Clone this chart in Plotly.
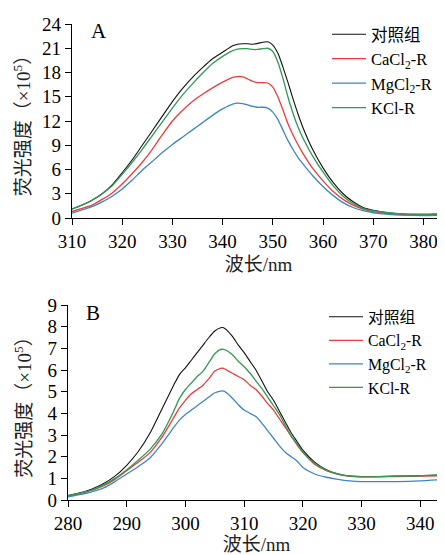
import plotly.graph_objects as go

# ---------------- Panel A data ----------------
wl_A = [310, 312, 314, 316, 318, 320, 322, 324, 326, 328, 330, 332, 334, 336, 338, 340,
        342, 343, 344, 345, 346, 347, 348, 349, 350, 351, 352, 353, 354, 355, 356, 358,
        360, 362, 364, 366, 368, 370, 373, 376, 380, 384.3]
ctrl_A = [1.1, 1.6, 2.2, 3.0, 4.1, 5.6, 7.2, 9.0, 10.8, 12.6, 14.4, 16.0, 17.4, 18.6, 19.7, 20.5,
          21.3, 21.5, 21.55, 21.55, 21.5, 21.6, 21.75, 21.8, 21.4, 20.4, 18.7, 16.8, 14.8, 12.9, 11.2, 8.4,
          6.2, 4.4, 3.0, 2.0, 1.3, 0.95, 0.65, 0.5, 0.45, 0.5]
ca_A = [0.8, 1.2, 1.6, 2.3, 3.1, 4.2, 5.5, 6.9, 8.5, 10.3, 12.0, 13.3, 14.4, 15.3, 16.1, 16.8,
        17.4, 17.5, 17.45, 17.2, 16.9, 16.75, 16.75, 16.7, 16.2, 15.0, 13.4, 11.7, 10.3, 9.1, 8.0, 6.1,
        4.6, 3.3, 2.3, 1.6, 1.1, 0.8, 0.55, 0.4, 0.35, 0.35]
mg_A = [0.6, 1.0, 1.4, 2.0, 2.7, 3.6, 4.7, 5.9, 7.0, 8.1, 9.1, 10.0, 10.9, 11.8, 12.7, 13.5,
        14.1, 14.2, 14.15, 14.0, 13.8, 13.7, 13.7, 13.6, 13.1, 12.2, 10.9, 9.6, 8.5, 7.5, 6.7, 5.2,
        3.9, 2.8, 1.9, 1.3, 0.9, 0.65, 0.45, 0.35, 0.3, 0.35]
k_A = [1.1, 1.6, 2.2, 3.0, 4.0, 5.4, 6.9, 8.5, 10.2, 11.9, 13.6, 15.2, 16.6, 17.9, 19.1, 20.0,
       20.7, 20.9, 20.95, 20.95, 20.85, 20.85, 20.95, 21.0, 20.6, 19.3, 17.3, 15.0, 13.0, 11.3, 9.9, 7.6,
       5.7, 4.0, 2.7, 1.8, 1.2, 0.9, 0.65, 0.5, 0.45, 0.5]

# ---------------- Panel B data ----------------
wl_B = [280, 282, 284, 286, 288, 290, 292, 294, 296, 298, 299, 300, 301, 302, 303, 304, 305,
        306, 306.5, 307, 308, 309, 310, 311, 312, 313, 314, 315, 316, 317, 318, 319, 320, 322,
        324, 326, 328, 330, 333, 336, 340, 344.2]
ctrl_B = [0.2, 0.33, 0.5, 0.75, 1.1, 1.6, 2.25, 3.1, 4.2, 5.3, 5.8, 6.1, 6.45, 6.8, 7.15, 7.5, 7.8,
          7.95, 7.95, 7.85, 7.55, 7.15, 6.8, 6.4, 6.0, 5.5, 5.0, 4.6, 4.1, 3.6, 3.1, 2.7, 2.3, 1.75,
          1.4, 1.2, 1.1, 1.08, 1.08, 1.1, 1.12, 1.15]
ca_B = [0.18, 0.3, 0.45, 0.65, 0.95, 1.35, 1.75, 2.2, 2.9, 3.8, 4.25, 4.6, 4.9, 5.1, 5.3, 5.6, 5.95,
        6.08, 6.08, 6.0, 5.85, 5.7, 5.55, 5.3, 5.1, 4.8, 4.45, 4.15, 3.75, 3.35, 2.95, 2.55, 2.2, 1.65,
        1.35, 1.18, 1.1, 1.08, 1.08, 1.08, 1.1, 1.12]
mg_B = [0.15, 0.25, 0.38, 0.55, 0.85, 1.2, 1.55, 1.95, 2.6, 3.35, 3.7, 3.95, 4.15, 4.35, 4.55, 4.75, 4.95,
        5.03, 5.03, 4.95, 4.7, 4.4, 4.15, 4.0, 3.85, 3.55, 3.2, 2.85, 2.5, 2.2, 2.0, 1.8, 1.5, 1.2,
        1.05, 0.95, 0.88, 0.85, 0.85, 0.85, 0.88, 0.95]
k_B = [0.2, 0.3, 0.45, 0.7, 1.0, 1.4, 1.85, 2.35, 3.05, 4.1, 4.7, 5.1, 5.4, 5.7, 5.95, 6.35, 6.75,
       6.95, 6.95, 6.9, 6.7, 6.4, 6.15, 5.85, 5.5, 5.15, 4.75, 4.35, 3.95, 3.45, 2.95, 2.6, 2.2, 1.7,
       1.38, 1.2, 1.1, 1.07, 1.08, 1.1, 1.12, 1.18]

series_names = ["对照组", "CaCl<sub>2</sub>-R", "MgCl<sub>2</sub>-R", "KCl-R"]
colors = ["#111111", "#ee3b3b", "#3d85c6", "#2f9a52"]
widths = [1.1, 1.3, 1.3, 1.3]

FONT = "Liberation Serif, Noto Sans CJK SC, serif"

fig = go.Figure()
for name, ys, c, w in zip(series_names, [ctrl_A, ca_A, mg_A, k_A], colors, widths):
    fig.add_trace(go.Scatter(x=wl_A, y=ys, mode="lines", name=name,
                             line=dict(color=c, width=w, shape="spline", smoothing=0.6),
                             xaxis="x", yaxis="y", legend="legend"))
for name, ys, c, w in zip(series_names, [ctrl_B, ca_B, mg_B, k_B], colors, widths):
    fig.add_trace(go.Scatter(x=wl_B, y=ys, mode="lines", name=name,
                             line=dict(color=c, width=w, shape="spline", smoothing=0.6),
                             xaxis="x2", yaxis="y2", legend="legend2"))

axis_common = dict(showline=True, linecolor="black", linewidth=1.3, ticks="outside", ticklen=6,
                   tickcolor="black", tickwidth=1.3, showgrid=False, zeroline=False, automargin=False,
                   tickfont=dict(family=FONT, size=19, color="black"))

xtitle = dict(text="波长/nm", font=dict(family=FONT, size=19, color="#222"), standoff=6)
ytitle_font = dict(family=FONT, size=19, color="#222")

# The page body has an 8px margin; the figure is sized to fit the 445x555 window.
OFF = 8
W, H = 445 - OFF, 555 - OFF


def px_x(v):
    return (v - OFF) / W


def px_y(v):
    return 1 - (v - OFF) / H


fig.update_layout(
    template="none",
    width=W, height=H, margin=dict(l=0, r=0, t=0, b=0, autoexpand=False),
    paper_bgcolor="white", plot_bgcolor="white",
    xaxis=dict(domain=[px_x(72), 1], range=[310, 384.3], dtick=10, anchor="y", title=xtitle, **axis_common),
    yaxis=dict(domain=[px_y(218), px_y(24)], range=[0, 24], dtick=3, anchor="x",
               title=dict(text="荧光强度（×10<sup>5</sup>）", font=ytitle_font, standoff=6), **axis_common),
    xaxis2=dict(domain=[px_x(68), 1], range=[280, 344.2], dtick=10, anchor="y2", title=xtitle, **axis_common),
    yaxis2=dict(domain=[px_y(500), px_y(305)], range=[0, 9], dtick=1, anchor="x2",
                title=dict(text="荧光强度（×10<sup>5</sup>）", font=ytitle_font, standoff=10), **axis_common),
    legend=dict(x=px_x(327), y=px_y(17), xanchor="left", yanchor="top", bgcolor="rgba(0,0,0,0)",
                font=dict(family=FONT, size=16.5, color="black"), itemwidth=34, tracegroupgap=0),
    legend2=dict(x=px_x(324), y=px_y(300), xanchor="left", yanchor="top", bgcolor="rgba(0,0,0,0)",
                 font=dict(family=FONT, size=15.8, color="black"), itemwidth=34, tracegroupgap=0),
    annotations=[
        dict(text="A", x=px_x(99), y=px_y(31), xref="paper", yref="paper", showarrow=False,
             xanchor="center", yanchor="middle", font=dict(family=FONT, size=21, color="black")),
        dict(text="B", x=px_x(93), y=px_y(313), xref="paper", yref="paper", showarrow=False,
             xanchor="center", yanchor="middle", font=dict(family=FONT, size=21, color="black")),
    ],
)

fig.write_html("out.html")
